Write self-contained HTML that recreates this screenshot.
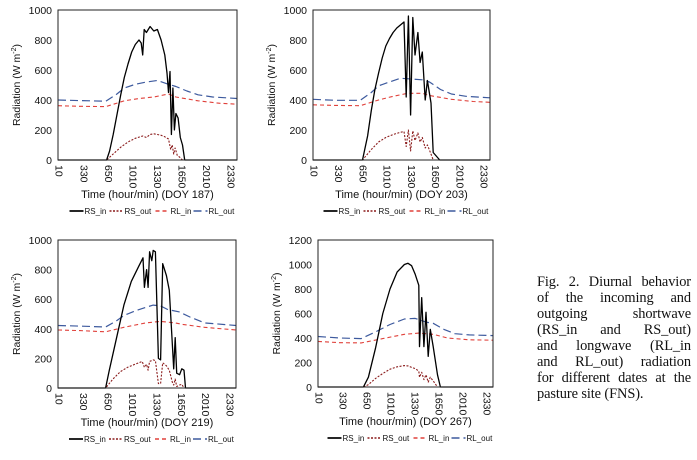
<!DOCTYPE html>
<html><head><meta charset="utf-8">
<style>
html,body{margin:0;padding:0;background:#fff;}
#wrap{position:relative;width:697px;height:460px;overflow:hidden;font-family:"Liberation Sans",Arial,sans-serif;}
#cap{position:absolute;left:537px;top:274px;width:154px;font-family:"Liberation Serif",serif;font-size:14.4px;line-height:16px;color:#111;letter-spacing:-0.1px;}
#cap div{text-align:justify;text-align-last:justify;white-space:nowrap;}
#cap div.last{text-align-last:left;}
</style></head>
<body>
<div id="wrap">
<svg id="svg" width="697" height="460"></svg>
<div id="cap">
<div>Fig. 2. Diurnal behavior</div>
<div>of the incoming and</div>
<div>outgoing shortwave</div>
<div>(RS_in and RS_out)</div>
<div>and longwave (RL_in</div>
<div>and RL_out) radiation</div>
<div>for different dates at the</div>
<div class="last">pasture site (FNS).</div>
</div>
</div>
<script>
// ----- Panel 1 (DOY 187) -----
const p1RsInH=[0,6.6,7,7.5,8,8.5,9,9.5,10,10.5,11,11.3,11.5,11.7,12,12.5,13,13.5,14,14.5,14.8,15,15.2,15.4,15.6,15.8,16,16.3,16.6,16.9,17.2,24.3];
const p1RsInV=[0,0,60,170,300,430,550,640,720,770,800,780,700,870,850,890,860,870,800,700,580,450,590,170,480,200,310,280,150,100,0,0];
const p1RsOutH=[0,6.6,7.5,8.5,9.5,10.5,11.5,12,12.5,13,13.5,14,14.5,15,15.3,15.5,15.7,15.9,16.2,16.5,16.9,24.3];
const p1RsOutV=[0,0,40,85,120,145,160,150,170,175,170,165,155,140,70,100,40,80,30,20,0,0];
const p1RlInH=[0,3,6.5,9,11,13,15,16,19,22,24.3];
const p1RlInV=[362,358,356,395,410,420,440,420,395,378,372];
const p1RlOutH=[0,3,6.5,8,9,10.5,12,13.5,15,16,17.5,19,21,24.3];
const p1RlOutV=[400,396,392,440,480,505,520,530,505,490,460,435,420,410];
// ----- Panel 2 (DOY 203) -----
const p2RsInH=[0,6.8,7.5,8,8.5,9,9.5,10,10.5,11,11.5,12,12.5,12.8,13.1,13.4,13.7,14,14.4,14.7,15,15.4,15.7,16.2,16.5,17.4,24.3];
const p2RsInV=[0,0,160,330,470,580,680,760,810,850,880,900,920,420,960,300,950,700,850,650,720,400,530,380,50,0,0];
const p2RsOutH=[0,6.8,8,9,10,11,12,12.5,12.8,13.1,13.4,13.7,14,14.4,14.7,15,15.4,15.7,16.2,16.5,24.3];
const p2RsOutV=[0,0,70,120,150,170,185,190,90,200,60,195,130,180,120,150,80,100,40,0,0];
const p2RlInH=[0,3,6.5,9,11,13,15,16,19,22,24.3];
const p2RlInV=[368,364,362,400,425,445,445,430,405,390,385];
const p2RlOutH=[0,3,6.5,8,9,10.5,12,13.5,15,16,17.5,19,21,24.3];
const p2RlOutV=[405,398,398,450,495,520,545,540,535,520,470,440,425,415];
// ----- Panel 3 (DOY 219) -----
const p3RsInH=[0,6.5,7,8,9,10,11,11.6,11.8,12.1,12.3,12.5,12.8,13,13.3,13.7,14,14.3,14.8,15.2,15.6,15.8,16,16.2,16.6,16.9,17.2,17.4,24.3];
const p3RsInV=[0,0,120,340,560,720,820,880,680,800,680,920,860,930,920,200,190,840,760,660,300,130,340,100,90,130,120,0,0];
const p3RsOutH=[0,6.5,7.5,8.5,9.5,10.5,11.5,11.8,12.1,12.3,12.5,13,13.3,13.7,14,14.3,14.8,15.2,15.6,15.8,16,16.2,16.6,16.9,17.2,24.3];
const p3RsOutV=[0,0,60,110,140,160,180,140,160,120,180,190,185,30,30,170,150,120,40,20,60,10,20,25,0,0];
const p3RlInH=[0,3,6.5,9,12,14,16,17,20,24.3];
const p3RlInV=[392,388,380,410,440,450,440,430,410,392];
const p3RlOutH=[0,3,6.5,8,9,10.5,12,13,14,15,16.5,18,20,24.3];
const p3RlOutV=[422,418,412,455,490,520,545,560,555,530,515,480,440,422];
// ----- Panel 4 (DOY 267) -----
const p4RsInH=[0,6.3,7,8,9,10,11,12,12.5,13,13.5,14,14.1,14.4,14.7,15,15.3,15.6,16,16.6,17,24.3];
const p4RsInV=[0,0,80,320,600,800,940,1000,1010,990,920,830,330,730,330,610,250,470,330,100,0,0];
const p4RsOutH=[0,6.3,7,8,9,10,11,12,12.5,13,13.5,14,14.1,14.4,14.7,15,15.3,15.6,16,16.6,24.3];
const p4RsOutV=[0,0,20,70,110,145,165,175,172,160,150,130,80,120,60,100,40,80,50,0,0];
const p4RlInH=[0,3,6,9,12,14,16,18,21,24.3];
const p4RlInV=[372,362,360,395,430,440,430,400,385,382];
const p4RlOutH=[0,3,6,8,10,12,13.5,15,16,17.5,19,21,24.3];
const p4RlOutV=[412,400,395,450,510,555,560,530,520,470,435,425,420];

const xTickLabels=["10","330","650","1010","1330","1650","2010","2330"];
const xTickHours=[0.167,3.5,6.833,10.167,13.5,16.833,20.167,23.5];
const doyLabels=["187","203","219","267"];
const yMaxes=[1000,1000,1000,1200];

const panels=[
 {L:58,R:237,T:10,B:160,ser:[[p1RsInH,p1RsInV],[p1RsOutH,p1RsOutV],[p1RlInH,p1RlInV],[p1RlOutH,p1RlOutV]]},
 {L:313,R:490,T:10,B:160,ser:[[p2RsInH,p2RsInV],[p2RsOutH,p2RsOutV],[p2RlInH,p2RlInV],[p2RlOutH,p2RlOutV]]},
 {L:58,R:236,T:240,B:388,ser:[[p3RsInH,p3RsInV],[p3RsOutH,p3RsOutV],[p3RlInH,p3RlInV],[p3RlOutH,p3RlOutV]]},
 {L:318,R:493,T:240,B:387,ser:[[p4RsInH,p4RsInV],[p4RsOutH,p4RsOutV],[p4RlInH,p4RlInV],[p4RlOutH,p4RlOutV]]}
];
const styles=[
 {c:"#000",w:1.3,d:"",n:"RS_in"},
 {c:"#8b1c1c",w:1.1,d:"2,1.5",n:"RS_out"},
 {c:"#e0403a",w:1.1,d:"4,3",n:"RL_in"},
 {c:"#3d5a9e",w:1.2,d:"8,4",n:"RL_out"}
];
const seriesNames=["rs-in","rs-out","rl-in","rl-out"];
const NS="http://www.w3.org/2000/svg";
const svg=document.getElementById("svg");
function mk(t,a,p){const e=document.createElementNS(NS,t);for(const k in a)e.setAttribute(k,a[k]);(p||svg).appendChild(e);return e;}
const X0=0,X1=24.3;
panels.forEach((p,i)=>{
 const g=mk("g",{});
 
 
 const ymax=yMaxes[i];
 const xs=h=>p.L+(h-X0)/(X1-X0)*(p.R-p.L);
 const ys=v=>p.B-v/ymax*(p.B-p.T);
 for(let v=0;v<=ymax;v+=200){
  const t=mk("text",{x:p.L-6,y:ys(v)+4,"text-anchor":"end","font-size":"10.5",fill:"#111"},g);
  t.textContent=v;
  
  
 }
 xTickHours.forEach((h,k)=>{
  const x=xs(h);
  const t=mk("text",{x:0,y:0,transform:`translate(${x-3.5},${p.B+5}) rotate(90)`,"font-size":"10.5",fill:"#111"},g);
  t.textContent=xTickLabels[k];
  
  
 });
 [3,2,1,0].forEach(s=>{
  const [H,V]=p.ser[s];
  const pts=H.map((h,k)=>xs(h).toFixed(1)+","+ys(V[k]).toFixed(1)).join(" ");
  const pl=mk("polyline",{points:pts,fill:"none",stroke:styles[s].c,"stroke-width":styles[s].w,"stroke-dasharray":styles[s].d,"stroke-linejoin":"round"},g);
  
  
 });
 const fr=mk("rect",{x:p.L,y:p.T,width:p.R-p.L,height:p.B-p.T,fill:"none",stroke:"#222","stroke-width":1},g);
 
 
 const yt=mk("text",{x:0,y:0,transform:`translate(${p.L-38},${(p.T+p.B)/2}) rotate(-90)`,"text-anchor":"middle","font-size":"10.5",fill:"#111"},g);
 yt.innerHTML='Radiation (W m<tspan font-size="7" dy="-4">-2</tspan><tspan dy="4">)</tspan>';
 
 
 const xt=mk("text",{x:(p.L+p.R)/2,y:p.B+38,"text-anchor":"middle","font-size":"11",fill:"#111"},g);
 xt.textContent="Time (hour/min)  (DOY "+doyLabels[i]+")";
 
 
 let lx=(p.L+p.R)/2-78;const ly=p.B+54;
 const widths=[40,46,38,40];
 styles.forEach((st,s)=>{
  const ln=mk("line",{x1:lx,y1:ly-3,x2:lx+14,y2:ly-3,stroke:st.c,"stroke-width":st.w+0.4,"stroke-dasharray":st.d},g);
  
  
  const lt=mk("text",{x:lx+15,y:ly,"font-size":"8",fill:"#111"},g);
  lt.textContent=st.n;
  
  
  lx+=widths[s];
 });
});
</script>
</body></html>
